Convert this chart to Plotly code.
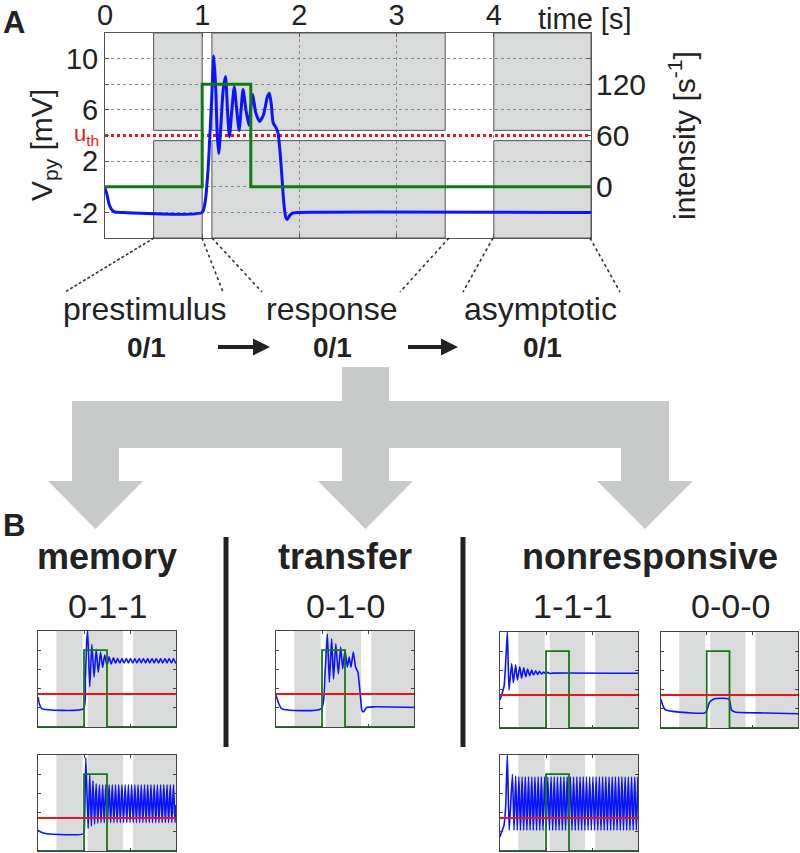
import plotly.graph_objects as go

W, H = 800, 853
def px(x):
    return x / W
def py(y):
    return 1 - y / H

FONT = "Liberation Sans, Arial, sans-serif"
TXT = "#222222"
BLUE = "#0a14ff"
GREEN = "#127a12"
RED = "#e8141e"
GRAYFILL = "#d9dada"

# ---------------- Panel A data ----------------
time_ticks = [0, 1, 2, 3, 4]
v_ticks = [-2, 2, 6, 10]
v_ticktext = ["-2", "2", "6", "10"]
v_minor = [0, 4, 8]
int_ticks = [0, 60, 120]
int_minor = [30, 90, 150]

a_t = [0, 0.02, 0.04, 0.07, 0.1, 0.15, 1.0, 1.03, 1.06, 1.09, 1.12, 1.14, 1.155, 1.17,
       1.19, 1.215, 1.24, 1.26, 1.28, 1.305, 1.33, 1.355, 1.38, 1.40, 1.42, 1.45, 1.48,
       1.50, 1.52, 1.55, 1.59, 1.63, 1.67, 1.69, 1.71, 1.73, 1.76, 1.78, 1.80, 1.82,
       1.84, 1.86, 1.875, 1.90, 1.93, 1.99, 5.0]
a_v = [-0.1, -0.6, -1.3, -1.8, -1.97, -2.0, -2.0, -1.2, 1.3, 5.7, 10.2, 7.5, 4.0, 2.6,
       4.5, 7.5, 8.6, 6.0, 3.9, 6.0, 7.8, 6.0, 4.4, 6.0, 7.6, 6.0, 4.8,
       6.2, 7.2, 5.8, 5.1, 5.6, 7.0, 7.3, 6.5, 5.0, 4.6, 4.2, 2.8, 0.8,
       -1.3, -2.4, -2.55, -2.25, -2.05, -2.0, -2.0]

stim_t = [0, 1.0, 1.0, 1.5, 1.5, 5.0]
stim_int = [0, 0, 120, 120, 0, 0]
u_th = 4.0
windows_A = [(0.5, 1.0), (1.1, 3.5), (4.0, 5.0)]
band_A = (3.6, 4.4)

# ---------------- Panel B data ----------------
windows_B = [(0.4, 0.97), (1.08, 1.85), (2.07, 3.0)]
stim_b_t = [0, 1.0, 1.0, 1.5, 1.5, 3.0]
stim_b_v = [0, 0, 4, 4, 0, 0]
th_b = 1.72

mem1_t = [0, 0.03, 0.08, 0.99, 1.03, 1.06, 1.08, 1.125, 1.17, 1.22, 1.265, 1.31, 1.36,
          1.405, 1.45, 1.50, 1.545, 1.59, 1.64, 1.685, 1.73, 1.78, 1.825, 1.87, 1.92,
          1.965, 2.01, 2.06, 2.105, 2.15, 2.20, 2.245, 2.29, 2.34, 2.385, 2.43, 2.48,
          2.525, 2.57, 2.62, 2.665, 2.71, 2.76, 2.805, 2.85, 2.90, 2.945, 2.99, 3.0]
mem1_v = [1.56, 1.2, 0.96, 0.96, 2.5, 4.5, 5.0, 2.1, 4.3, 2.6, 4.05, 2.85, 3.9,
          3.1, 3.75, 3.2, 3.65, 3.28, 3.6, 3.32, 3.57, 3.33, 3.57, 3.33, 3.57,
          3.33, 3.57, 3.33, 3.57, 3.33, 3.57, 3.33, 3.57, 3.33, 3.57, 3.33, 3.57,
          3.33, 3.57, 3.33, 3.57, 3.33, 3.57, 3.33, 3.57, 3.33, 3.57, 3.33, 3.4]

mem2_t = [0, 0.05, 0.19, 0.99, 1.01, 1.04, 1.09,
          1.125, 1.16, 1.195, 1.23, 1.265, 1.30, 1.335, 1.37, 1.405, 1.44, 1.475, 1.51,
          1.545, 1.58, 1.615, 1.65, 1.685, 1.72, 1.755, 1.79, 1.825, 1.86, 1.895, 1.93,
          1.965, 2.00, 2.035, 2.07, 2.105, 2.14, 2.175, 2.21, 2.245, 2.28, 2.315, 2.35,
          2.385, 2.42, 2.455, 2.49, 2.525, 2.56, 2.595, 2.63, 2.665, 2.70, 2.735, 2.77,
          2.805, 2.84, 2.875, 2.91, 2.945, 2.98, 3.0]
mem2_v = [1.08, 1.0, 0.9, 0.9, 1.4, 4.86, 1.17,
          3.95, 1.3, 3.65, 1.4, 3.5, 1.45, 3.45, 1.48, 3.45, 1.48, 3.45, 1.48,
          3.45, 1.48, 3.45, 1.48, 3.45, 1.48, 3.45, 1.48, 3.45, 1.48, 3.45, 1.48,
          3.45, 1.48, 3.45, 1.48, 3.45, 1.48, 3.45, 1.48, 3.45, 1.48, 3.45, 1.48,
          3.45, 1.48, 3.45, 1.48, 3.45, 1.48, 3.45, 1.48, 3.45, 1.48, 3.45, 1.48,
          3.45, 1.48, 3.45, 1.48, 3.45, 1.48, 2.4]

trans_t = [0, 0.12, 0.99, 1.065, 1.116, 1.16, 1.21, 1.25, 1.30, 1.355, 1.405, 1.45,
           1.50, 1.55, 1.59, 1.63, 1.68, 1.73, 1.78, 1.83, 1.87, 1.90, 1.97, 2.11, 3.0]
trans_v = [1.65, 0.96, 0.96, 2.77, 4.84, 2.33, 4.6, 2.5, 4.33, 2.77, 4.16, 3.04,
           3.99, 3.12, 3.64, 3.12, 3.9, 3.12, 2.86, 1.74, 0.84, 0.79, 1.01, 1.05, 1.02]

non1_t = [0, 0.087, 0.13, 0.16, 0.196, 0.254, 0.29, 0.34, 0.377, 0.43, 0.47, 0.515,
          0.56, 0.60, 0.645, 0.69, 0.73, 0.775, 0.82, 0.86, 0.905, 0.95, 0.99, 1.04,
          1.08, 1.16, 3.0]
non1_v = [1.47, 2.16, 3.7, 5.0, 1.98, 3.36, 2.36, 3.28, 2.5, 3.19, 2.59, 3.14,
          2.67, 3.07, 2.72, 3.02, 2.76, 2.98, 2.79, 2.95, 2.81, 2.91, 2.83, 2.9,
          2.84, 2.86, 2.85]

non2_t = [0, 0.036, 0.087, 0.123, 0.16, 0.2,
          0.27, 0.305, 0.34, 0.375, 0.41, 0.445, 0.48, 0.515, 0.55, 0.585, 0.62, 0.655,
          0.69, 0.725, 0.76, 0.795, 0.83, 0.865, 0.90, 0.935, 0.97, 1.005, 1.04, 1.075,
          1.11, 1.145, 1.18, 1.215, 1.25, 1.285, 1.32, 1.355, 1.39, 1.425, 1.46, 1.495,
          1.53, 1.565, 1.60, 1.635, 1.67, 1.705, 1.74, 1.775, 1.81, 1.845, 1.88, 1.915,
          1.95, 1.985, 2.02, 2.055, 2.09, 2.125, 2.16, 2.195, 2.23, 2.265, 2.30, 2.335,
          2.37, 2.405, 2.44, 2.475, 2.51, 2.545, 2.58, 2.615, 2.65, 2.685, 2.72, 2.755,
          2.79, 2.825, 2.86, 2.895, 2.93, 2.965, 3.0]
non2_v = [0.74, 1.0, 1.34, 2.29, 5.0, 1.08,
          4.0, 1.08, 3.9, 1.08, 3.87, 1.08, 3.87, 1.08, 3.87, 1.08, 3.87, 1.08,
          3.87, 1.08, 3.87, 1.08, 3.87, 1.08, 3.87, 1.08, 3.87, 1.08, 3.87, 1.08,
          3.87, 1.08, 3.87, 1.08, 3.87, 1.08, 3.87, 1.08, 3.87, 1.08, 3.87, 1.08,
          3.87, 1.08, 3.87, 1.08, 3.87, 1.08, 3.87, 1.08, 3.87, 1.08, 3.87, 1.08,
          3.87, 1.08, 3.87, 1.08, 3.87, 1.08, 3.87, 1.08, 3.87, 1.08, 3.87, 1.08,
          3.87, 1.08, 3.87, 1.08, 3.87, 1.08, 3.87, 1.08, 3.87, 1.08, 3.87, 1.08,
          3.87, 1.08, 3.87, 1.08, 3.87, 1.08, 3.87]

zero_t = [0, 0.036, 0.094, 0.35, 0.96, 1.01, 1.06, 1.145, 1.33, 1.47, 1.51, 1.54,
          1.62, 2.3, 3.0]
zero_v = [1.5, 1.2, 0.95, 0.84, 0.78, 0.95, 1.33, 1.5, 1.55, 1.52, 1.38, 0.95,
          0.83, 0.78, 0.74]

stage_labels = ["prestimulus", "response", "asymptotic"]
stage_codes = ["0/1", "0/1", "0/1"]
class_titles = ["memory", "transfer", "nonresponsive"]
pattern_labels = ["0-1-1", "0-1-0", "1-1-1", "0-0-0"]

# ---------------- figure ----------------
fig = go.Figure()
shapes = []
annotations = []

# Panel A traces
fig.add_trace(go.Scatter(x=[0, 5], y=[u_th, u_th], mode="lines",
                         line=dict(color=RED, width=3, dash="dot"),
                         xaxis="x", yaxis="y", hoverinfo="skip"))
fig.add_trace(go.Scatter(x=stim_t, y=stim_int, mode="lines",
                         line=dict(color=GREEN, width=3),
                         xaxis="x", yaxis="y2", hoverinfo="skip"))
fig.add_trace(go.Scatter(x=a_t, y=a_v, mode="lines",
                         line=dict(color=BLUE, width=3, shape="spline", smoothing=0.6),
                         xaxis="x", yaxis="y", hoverinfo="skip"))

for (w0, w1) in windows_A:
    for (b0, b1) in [(-4, band_A[0]), (band_A[1], 12)]:
        shapes.append(dict(type="rect", xref="x", yref="y", x0=w0, x1=w1, y0=b0, y1=b1,
                           fillcolor=GRAYFILL, line=dict(color="#555555", width=1),
                           layer="below"))

# Panel B small plots
small = [
    (mem1_t, mem1_v, 38, 176, 631, 727),
    (mem2_t, mem2_v, 38, 176, 755, 851),
    (trans_t, trans_v, 276, 414, 631, 727),
    (non1_t, non1_v, 500, 638, 632, 728),
    (non2_t, non2_v, 500, 638, 755, 851),
    (zero_t, zero_v, 661, 798, 632, 728),
]

layout_axes = {}
for k, (tt, vv, x0, x1, y0, y1) in enumerate(small):
    xa = f"x{k+2}"
    ya = f"y{k+3}"
    fig.add_trace(go.Scatter(x=tt, y=vv, mode="lines",
                             line=dict(color=BLUE, width=1.6, shape="spline", smoothing=0.5),
                             xaxis=xa, yaxis=ya, hoverinfo="skip"))
    fig.add_trace(go.Scatter(x=stim_b_t, y=stim_b_v, mode="lines",
                             line=dict(color=GREEN, width=1.8),
                             xaxis=xa, yaxis=ya, hoverinfo="skip"))
    fig.add_trace(go.Scatter(x=[0, 3], y=[th_b, th_b], mode="lines",
                             line=dict(color=RED, width=2.2),
                             xaxis=xa, yaxis=ya, hoverinfo="skip"))
    for (w0, w1) in windows_B:
        shapes.append(dict(type="rect", xref=xa, yref=ya, x0=w0, x1=w1, y0=0, y1=5,
                           fillcolor=GRAYFILL, line=dict(width=0), layer="below"))
    layout_axes[f"xaxis{k+2}"] = dict(
        domain=[px(x0), px(x1)], range=[0, 3], anchor=ya, showline=True,
        linecolor="#444444", linewidth=1, mirror="ticks", ticks="inside", ticklen=3,
        tickcolor="#444444", tickvals=[1, 2], showticklabels=False, showgrid=False,
        zeroline=False, fixedrange=True, automargin=False)
    layout_axes[f"yaxis{k+3}"] = dict(
        domain=[py(y1), py(y0)], range=[0, 5], anchor=xa, showline=True,
        linecolor="#444444", linewidth=1, mirror="ticks", ticks="inside", ticklen=3,
        tickcolor="#444444", tickvals=[1, 2, 3, 4], showticklabels=False, showgrid=False,
        zeroline=False, fixedrange=True, automargin=False)

# connector lines under panel A
conn = [((154, 238), (65, 292), "3px,2px"), ((202, 238), (223, 292), "dot"),
        ((212, 238), (262, 292), "dot"), ((449, 238), (400, 292), "dot"),
        ((493, 238), (463, 292), "dot"), ((590, 238), (620, 292), "dot")]
for (a, b, d) in conn:
    shapes.append(dict(type="line", xref="paper", yref="paper",
                       x0=px(a[0]), y0=py(a[1]), x1=px(b[0]), y1=py(b[1]),
                       line=dict(color="#333333", width=1.6, dash=d)))

# black arrows between stage codes
for (xs, xe) in [(218, 270), (408, 458)]:
    yc = 347
    path = (f"M {px(xs)} {py(yc-2)} L {px(xe-17)} {py(yc-2)} L {px(xe-17)} {py(yc-8.5)} "
            f"L {px(xe)} {py(yc)} L {px(xe-17)} {py(yc+8.5)} L {px(xe-17)} {py(yc+2)} "
            f"L {px(xs)} {py(yc+2)} Z")
    shapes.append(dict(type="path", xref="paper", yref="paper", path=path,
                       fillcolor="#222222", line=dict(width=0)))

# big gray branching arrow
pts = [(342, 367), (389, 367), (389, 401), (669, 401), (669, 481), (693, 481),
       (645, 529), (597, 481), (621, 481), (621, 448), (389, 448), (389, 481),
       (413, 481), (365.5, 529), (318, 481), (342, 481), (342, 448), (119, 448),
       (119, 481), (143, 481), (95.5, 529), (48, 481), (72, 481), (72, 401),
       (342, 401)]
path = "M " + " L ".join(f"{px(x)} {py(y)}" for (x, y) in pts) + " Z"
shapes.append(dict(type="path", xref="paper", yref="paper", path=path,
                   fillcolor="#c8c9c9", line=dict(width=0)))

# separators
for xs in [226, 463]:
    shapes.append(dict(type="line", xref="paper", yref="paper",
                       x0=px(xs), x1=px(xs), y0=py(537), y1=py(747),
                       line=dict(color="#222222", width=5)))

def ann(text, x, y, size, bold=False, color=TXT, angle=0, xanchor="center"):
    t = f"<b>{text}</b>" if bold else text
    annotations.append(dict(text=t, x=px(x), y=py(y), xref="paper", yref="paper",
                            showarrow=False, xanchor=xanchor, yanchor="middle",
                            textangle=angle,
                            font=dict(family=FONT, size=size, color=color)))

ann("A", 14, 23, 31, bold=True)
ann("B", 14, 525, 31, bold=True)
ann("time [s]", 584, 19, 29)
ann("V<sub>py</sub> [mV]", 43, 145, 30, angle=-90)
ann("intensity [s<sup>-1</sup>]", 682, 136, 30, angle=-90)
ann("u<sub>th</sub>", 86, 135, 22, color=RED)

for lab, x in zip(stage_labels, [145, 332, 540]):
    ann(lab, x, 309, 32)
for code, x in zip(stage_codes, [146, 332, 542]):
    ann(code, x, 347, 28, bold=True)

for title, x in zip(class_titles, [107, 345, 650]):
    ann(title, x, 556, 36, bold=True)
for lab, x in zip(pattern_labels, [107, 345, 572, 730]):
    ann(lab, x, 606, 34)

GRID = dict(showgrid=True, gridcolor="#8a8a8a", griddash="dot", gridwidth=1)

fig.update_layout(
    width=W, height=H, margin=dict(l=0, r=0, t=0, b=0, autoexpand=False),
    paper_bgcolor="white", plot_bgcolor="white", showlegend=False,
    font=dict(family=FONT, color=TXT),
    xaxis=dict(domain=[px(105), px(591)], range=[0, 5], side="top",
               tickvals=time_ticks, ticks="inside", ticklen=4, tickcolor="#555555",
               mirror="ticks", showline=True, linecolor="#555555", linewidth=1,
               ticklabelstandoff=-5,
               zeroline=False, tickfont=dict(size=29, color=TXT), anchor="y",
               fixedrange=True, automargin=False, **GRID),
    yaxis=dict(domain=[py(238), py(33)], range=[-4, 12], tickvals=v_ticks,
               ticktext=v_ticktext, ticks="inside", ticklen=4, tickcolor="#555555",
               minor=dict(tickvals=v_minor, ticks="inside", ticklen=4,
                          tickcolor="#555555", **GRID),
               showline=True, linecolor="#555555", linewidth=1, mirror=True,
               zeroline=False, tickfont=dict(size=29, color=TXT), anchor="x",
               fixedrange=True, automargin=False, **GRID),
    yaxis2=dict(overlaying="y", side="right", anchor="x", range=[-60, 180],
                tickvals=int_ticks, ticks="inside", ticklen=4, tickcolor="#555555",
                minor=dict(tickvals=int_minor, ticks="inside", ticklen=4,
                           tickcolor="#555555", showgrid=False),
                showgrid=False, zeroline=False, showline=False, ticklabelstandoff=4,
                tickfont=dict(size=30, color=TXT), fixedrange=True, automargin=False),
    shapes=shapes, annotations=annotations,
    **layout_axes,
)

fig.write_html("out.html", config={"displayModeBar": False},
               post_script="document.body.style.margin='0';document.body.style.overflow='hidden';")
